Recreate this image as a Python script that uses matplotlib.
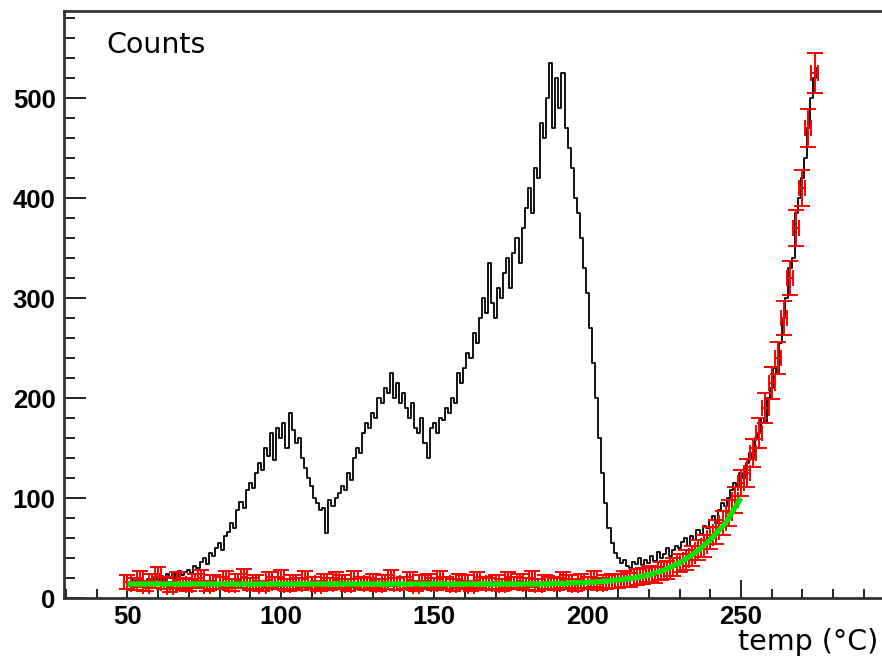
import numpy as np
import matplotlib
matplotlib.use("Agg")
import matplotlib.pyplot as plt
from matplotlib.ticker import MultipleLocator

# black histogram, 1 degree bins from 50 to 275
temp_all = np.arange(50, 276, 1)
counts_all = [
    15, 12, 18, 14, 20, 16, 13, 19, 17, 21,
    18, 22, 16, 24, 20, 25, 19, 27, 23, 26,
    28, 25, 32, 30, 36, 40, 34, 45, 42, 50,
    55, 48, 62, 66, 75, 70, 88, 96, 90, 108,
    115, 110, 125, 135, 128, 150, 142, 165, 138, 170,
    160, 175, 150, 185, 168, 155, 160, 140, 130, 120,
    112, 100, 95, 88, 90, 65, 98, 92, 100, 105,
    112, 108, 125, 118, 140, 150, 145, 165, 175, 170,
    185, 180, 200, 195, 210, 205, 225, 200, 215, 195,
    205, 190, 180, 195, 170, 165, 180, 155, 140, 170,
    175, 165, 180, 178, 190, 185, 200, 195, 225, 215,
    230, 245, 240, 265, 255, 280, 300, 285, 335, 295,
    280, 310, 300, 325, 340, 310, 345, 360, 335, 370,
    390, 410, 385, 430, 420, 475, 460, 500, 535, 470,
    520, 490, 525, 470, 450, 430, 400, 385, 360, 330,
    305, 270, 235, 200, 160, 125, 95, 70, 55, 45,
    40, 35, 38, 32, 30, 36, 34, 40, 33, 38,
    35, 42, 37, 46, 40, 44, 50, 42, 48, 52,
    50, 56, 60, 52, 62, 58, 68, 64, 72, 70,
    78, 82, 75, 88, 95, 92, 100, 108, 115, 112,
    125, 120, 135, 145, 140, 160, 165, 180, 175, 200,
    210, 230, 225, 255, 280, 300, 330, 340, 385, 400,
    420, 440, 470, 500, 520, 530,
]

# red background points, 2 degree bins
temp_bg = np.arange(50, 276, 2)
counts_bg = [
    16, 14, 19, 12, 17, 22, 15, 11, 18, 14,
    13, 17, 20, 12, 16, 15, 19, 13, 17, 21,
    14, 16, 12, 18, 15, 20, 13, 16, 14, 19,
    15, 12, 17, 14, 18, 16, 13, 19, 15, 14,
    17, 13, 16, 20, 14, 15, 18, 12, 16, 17,
    14, 19, 15, 13, 17, 16, 12, 18, 15, 14,
    16, 13, 18, 15, 17, 14, 19, 13, 16, 15,
    14, 18, 16, 13, 17, 15, 19, 14, 16, 17,
    17, 19, 18, 21, 22, 24, 23, 27, 28, 31,
    35, 38, 42, 48, 52, 60, 66, 75, 85, 98,
    115, 125, 145, 165, 190, 215, 240, 280, 320, 370,
    410, 470, 525,
]
errors_bg = [
    7, 6, 8, 5, 7, 9, 6, 5, 8, 6,
    6, 7, 8, 5, 7, 6, 8, 6, 7, 8,
    6, 7, 5, 8, 6, 8, 6, 7, 6, 8,
    6, 5, 7, 6, 8, 7, 6, 8, 6, 6,
    7, 6, 7, 8, 6, 6, 8, 5, 7, 7,
    6, 8, 6, 6, 7, 7, 5, 8, 6, 6,
    7, 6, 8, 6, 7, 6, 8, 6, 7, 6,
    6, 8, 7, 6, 7, 6, 8, 6, 7, 7,
    7, 8, 7, 8, 8, 8, 8, 9, 9, 9,
    9, 10, 10, 10, 11, 11, 12, 12, 13, 13,
    13, 14, 14, 15, 15, 16, 16, 17, 17, 18,
    18, 19, 20,
]

# green fit curve
temp_fit = np.arange(50, 251, 5)
counts_fit = [
    14, 14, 14, 14, 14, 14, 14, 14, 14, 14,
    14, 14, 14, 14, 14, 14, 14, 14, 14, 14,
    14, 14, 14, 14, 14, 14, 14, 14, 14.5, 15,
    15.5, 16.5, 18, 20, 23, 28, 35, 45, 58, 75,
    100,
]

fig = plt.figure(figsize=(8.82, 6.6), dpi=100)
ax = fig.add_axes([64 / 882, 62 / 660, 1 - 64 / 882, (598 - 11) / 660])

ax.plot(temp_all, counts_all, drawstyle="steps-mid", color="black", lw=1.3, zorder=2)

ax.errorbar(temp_bg, counts_bg, yerr=errors_bg, xerr=1, fmt="none", ecolor="#ff0000",
            elinewidth=1.4, capsize=5.5, capthick=1.4, zorder=3)

ax.plot(temp_fit, counts_fit, color="#00e600", lw=3.8, solid_capstyle="butt", zorder=4)

ax.set_xlim(29.3, 296)
ax.set_ylim(0, 587)

ax.xaxis.set_major_locator(MultipleLocator(50))
ax.xaxis.set_minor_locator(MultipleLocator(10))
ax.yaxis.set_major_locator(MultipleLocator(100))
ax.yaxis.set_minor_locator(MultipleLocator(20))

ax.tick_params(axis="both", which="both", direction="in", colors="#222222", width=1.4)
ax.tick_params(axis="x", which="major", length=13, pad=5)
ax.tick_params(axis="x", which="minor", length=6.5)
ax.tick_params(axis="y", which="major", length=16, pad=6)
ax.tick_params(axis="y", which="minor", length=8)
ax.tick_params(axis="both", labelcolor="black")

for lab in ax.get_xticklabels() + ax.get_yticklabels():
    lab.set_fontfamily("Liberation Sans")
    lab.set_fontweight("bold")
    lab.set_fontsize(18.5)

for side in ["left", "bottom", "top"]:
    ax.spines[side].set_linewidth(2)
    ax.spines[side].set_color("#333333")
ax.spines["right"].set_visible(False)

fig.text(106 / 882, 1 - 53 / 660, "Counts", fontsize=20.5, family="DejaVu Sans",
         ha="left", va="baseline")
fig.text(878 / 882, 1 - 650 / 660, "temp (°C)", fontsize=20.5, family="DejaVu Sans",
         ha="right", va="baseline")

fig.savefig("out.png", dpi=100)
